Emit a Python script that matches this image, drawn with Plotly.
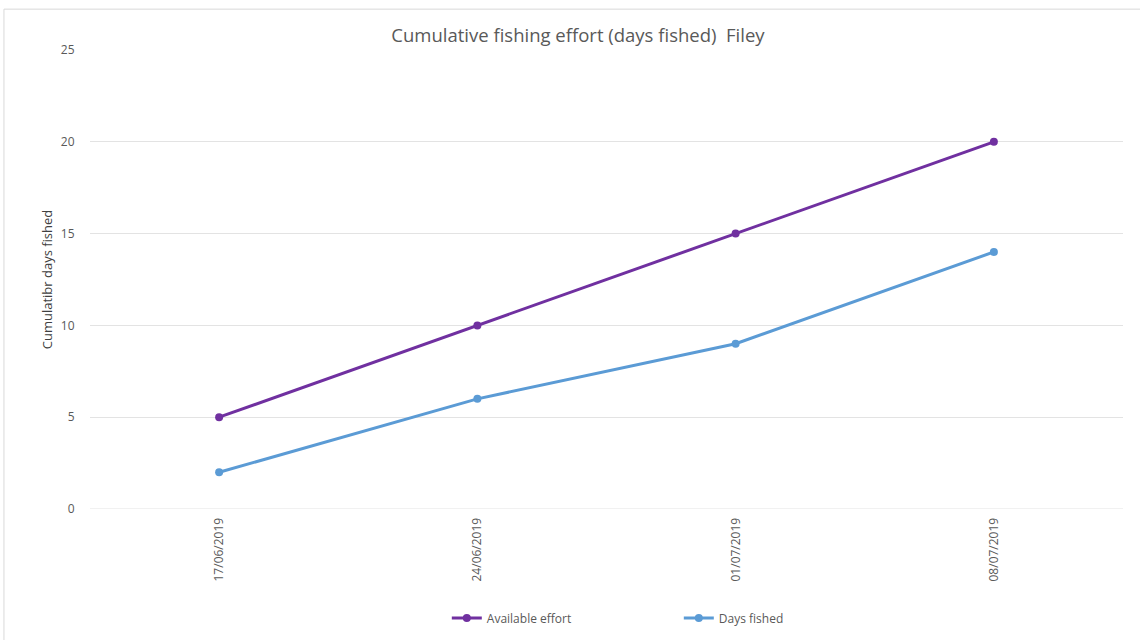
import plotly.graph_objects as go

# Weekly dates and cumulative day counts
dates = ["17/06/2019", "24/06/2019", "01/07/2019", "08/07/2019"]
available_effort = [5, 10, 15, 20]
days_fished = [2, 6, 9, 14]

grey = "#595959"
font_family = "Open Sans, Liberation Sans, sans-serif"

fig = go.Figure()
fig.add_trace(go.Scatter(
    x=dates, y=available_effort, name="Available effort",
    mode="lines+markers",
    line=dict(color="#7030A0", width=3),
    marker=dict(size=8, color="#7030A0"),
))
fig.add_trace(go.Scatter(
    x=dates, y=days_fished, name="Days fished",
    mode="lines+markers",
    line=dict(color="#5B9BD5", width=3),
    marker=dict(size=8, color="#5B9BD5"),
))

fig.update_layout(
    width=1140, height=640,
    margin=dict(l=90, r=17, t=50, b=131, autoexpand=False),
    paper_bgcolor="white", plot_bgcolor="white",
    font=dict(family=font_family, color=grey, size=12),
    title=dict(
        text="Cumulative fishing effort (days fished)  Filey",
        x=0.507, xanchor="center", y=0.945, yanchor="middle",
        font=dict(size=18.5, color=grey, family=font_family),
    ),
    xaxis=dict(
        type="category", range=[-0.5, 3.5],
        tickangle=-90, showgrid=False, zeroline=False,
        showline=False, ticks="outside", ticklen=3,
        tickcolor="rgba(0,0,0,0)",
        tickfont=dict(size=12, color=grey),
    ),
    yaxis=dict(
        range=[0, 25], dtick=5,
        showgrid=True, gridcolor="#e3e3e3", gridwidth=1,
        zeroline=False, showline=False, ticks="outside",
        ticklen=12, tickcolor="rgba(0,0,0,0)",
        tickfont=dict(size=12, color=grey),
        title=dict(text="Cumulatibr days fished",
                   font=dict(size=13, color="#404040"), standoff=5),
    ),
    legend=dict(
        orientation="h", x=0.57, xanchor="center",
        y=-0.2375, yanchor="middle",
        entrywidth=187, font=dict(size=12, color=grey),
        bgcolor="rgba(0,0,0,0)",
    ),
    shapes=[dict(
        type="rect", xref="paper", yref="paper",
        x0=-0.0833, x1=1.03, y0=-0.3, y1=1.089,
        line=dict(color="#d9d9d9", width=1), layer="below",
    )],
)
fig.add_hline(y=0, line=dict(color="#e3e3e3", width=1))

fig.write_html("out.html")
